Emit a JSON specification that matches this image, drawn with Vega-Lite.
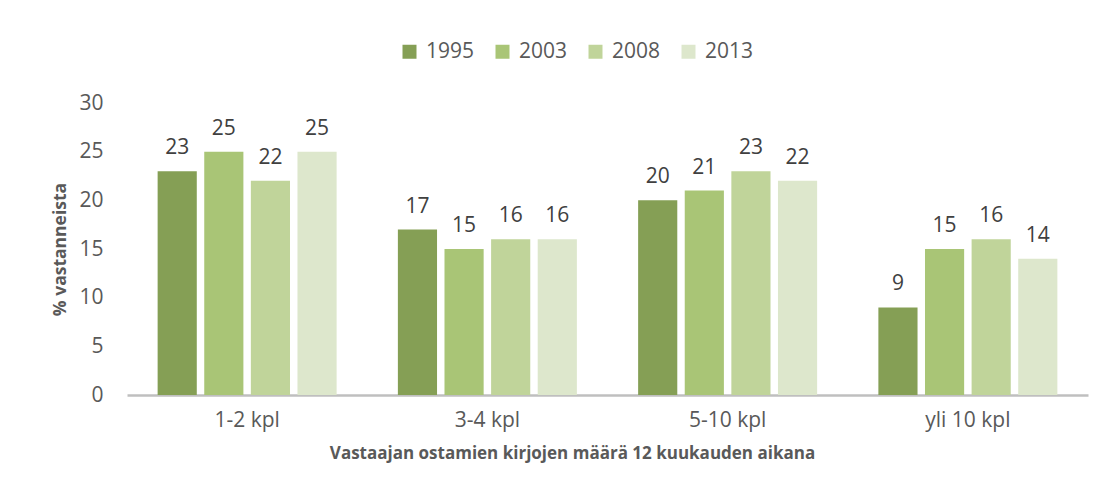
{
  "$schema": "https://vega.github.io/schema/vega-lite/v6.json",
  "width": 961,
  "height": 292,
  "autosize": {"type": "none"},
  "padding": {"left": 127, "top": 103, "right": 17, "bottom": 103},
  "background": "white",
  "config": {
    "view": {"stroke": null},
    "font": "Open Sans",
    "axis": {"labelFont": "Open Sans", "titleFont": "Open Sans"}
  },
  "data": {
    "values": [
      {"kategoria": "1-2 kpl", "vuosi": "1995", "arvo": 23},
      {"kategoria": "1-2 kpl", "vuosi": "2003", "arvo": 25},
      {"kategoria": "1-2 kpl", "vuosi": "2008", "arvo": 22},
      {"kategoria": "1-2 kpl", "vuosi": "2013", "arvo": 25},
      {"kategoria": "3-4 kpl", "vuosi": "1995", "arvo": 17},
      {"kategoria": "3-4 kpl", "vuosi": "2003", "arvo": 15},
      {"kategoria": "3-4 kpl", "vuosi": "2008", "arvo": 16},
      {"kategoria": "3-4 kpl", "vuosi": "2013", "arvo": 16},
      {"kategoria": "5-10 kpl", "vuosi": "1995", "arvo": 20},
      {"kategoria": "5-10 kpl", "vuosi": "2003", "arvo": 21},
      {"kategoria": "5-10 kpl", "vuosi": "2008", "arvo": 23},
      {"kategoria": "5-10 kpl", "vuosi": "2013", "arvo": 22},
      {"kategoria": "yli 10 kpl", "vuosi": "1995", "arvo": 9},
      {"kategoria": "yli 10 kpl", "vuosi": "2003", "arvo": 15},
      {"kategoria": "yli 10 kpl", "vuosi": "2008", "arvo": 16},
      {"kategoria": "yli 10 kpl", "vuosi": "2013", "arvo": 14}
    ]
  },
  "encoding": {
    "x": {
      "field": "kategoria",
      "type": "nominal",
      "sort": null,
      "scale": {"paddingInner": 0.255, "paddingOuter": 0.1275},
      "axis": {
        "title": "Vastaajan ostamien kirjojen määrä 12 kuukauden aikana",
        "titleFontSize": 17,
        "titleFontWeight": "bold",
        "titleColor": "#595959",
        "titleX": 445,
        "titleY": 63,
        "titleBaseline": "alphabetic",
        "labelAngle": 0,
        "labelFontSize": 21,
        "labelColor": "#595959",
        "labelPadding": 14,
        "ticks": false,
        "domainColor": "#bfbfbf",
        "domainWidth": 2.5
      }
    },
    "xOffset": {
      "field": "vuosi",
      "type": "nominal",
      "scale": {"paddingInner": 0.16, "paddingOuter": 0}
    },
    "y": {
      "field": "arvo",
      "type": "quantitative",
      "scale": {"domain": [0, 30]},
      "axis": {
        "title": "% vastanneista",
        "titleFontSize": 17.5,
        "titleFontWeight": "bold",
        "titleColor": "#595959",
        "titleX": -58,
        "titleY": 146,
        "values": [0, 5, 10, 15, 20, 25, 30],
        "labelFontSize": 21,
        "labelColor": "#595959",
        "labelPadding": 24,
        "ticks": false,
        "domain": false,
        "grid": false
      }
    }
  },
  "layer": [
    {
      "mark": {"type": "bar"},
      "encoding": {
        "color": {
          "field": "vuosi",
          "type": "nominal",
          "scale": {
            "domain": ["1995", "2003", "2008", "2013"],
            "range": ["#859f55", "#a9c576", "#c0d49a", "#dde7cc"]
          },
          "legend": {
            "title": null,
            "orient": "none",
            "direction": "horizontal",
            "legendX": 272,
            "legendY": -62,
            "symbolType": "square",
            "symbolSize": 196,
            "symbolStrokeWidth": 0,
            "labelFontSize": 21,
            "labelColor": "#595959",
            "labelOffset": 6,
            "columnPadding": 17
          }
        }
      }
    },
    {
      "mark": {"type": "text", "baseline": "alphabetic", "dy": -17, "fontSize": 21, "color": "#404040"},
      "encoding": {
        "text": {"field": "arvo", "type": "quantitative"}
      }
    }
  ]
}
